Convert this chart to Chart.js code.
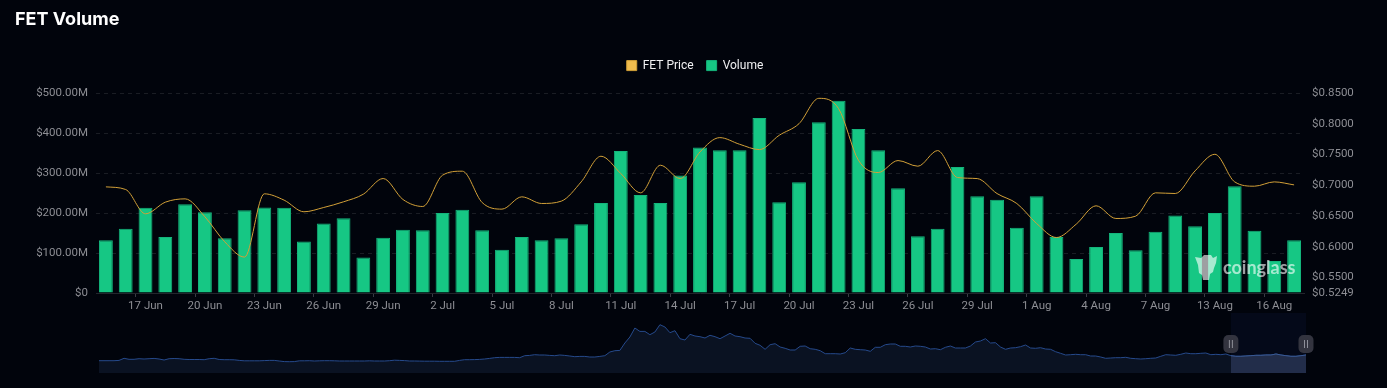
<!DOCTYPE html>
<html>
<head>
<meta charset="utf-8">
<title>FET Volume</title>
<script src="https://cdn.jsdelivr.net/npm/chart.js@4"></script>
<style>
    html, body { margin: 0; padding: 0; background: #01040c; overflow: hidden; }
    #page { position: relative; width: 1387px; height: 388px; }
    canvas { position: absolute; left: 0; display: block; }
    #mainChart { top: 0; }
    #overviewChart { top: 313px; }
    #watermark { position: absolute; left: 1195px; top: 253px; height: 28px; display: flex; align-items: center; color: rgba(255, 255, 255, 0.62); font: 700 18px Lato, sans-serif; }
    #watermark svg { margin-right: 6px; }
</style>
</head>
<body>
<div id="page">
    <canvas id="mainChart" width="1387" height="320"></canvas>
    <canvas id="overviewChart" width="1387" height="60"></canvas>
    <div id="watermark">
        <svg width="22" height="27" viewBox="0 0 22 27"><path fill="rgba(255,255,255,0.62)" d="M0 3 L6 4 L9 1 L16 1 L18 4 L22 2 L21 9 L19 14 L18 18 L15 20 L14 26 L8 26 L7 21 L4 19 L3 11 Z"/></svg>
        <span>coinglass</span>
    </div>
</div>
<script>
const dates = ['15 Jun', '16 Jun', '17 Jun', '18 Jun', '19 Jun', '20 Jun', '21 Jun', '22 Jun', '23 Jun', '24 Jun',
    '25 Jun', '26 Jun', '27 Jun', '28 Jun', '29 Jun', '30 Jun', '1 Jul', '2 Jul', '3 Jul', '4 Jul',
    '5 Jul', '6 Jul', '7 Jul', '8 Jul', '9 Jul', '10 Jul', '11 Jul', '12 Jul', '13 Jul', '14 Jul',
    '15 Jul', '16 Jul', '17 Jul', '18 Jul', '19 Jul', '20 Jul', '21 Jul', '22 Jul', '23 Jul', '24 Jul',
    '25 Jul', '26 Jul', '27 Jul', '28 Jul', '29 Jul', '30 Jul', '31 Jul', '1 Aug', '2 Aug', '3 Aug',
    '4 Aug', '5 Aug', '6 Aug', '7 Aug', '11 Aug', '12 Aug', '13 Aug', '14 Aug', '15 Aug', '16 Aug', '17 Aug'];

// volume in $M
const volumeValues = [132, 161, 213, 140, 222, 202, 137, 207, 214, 213,
    129, 174, 187, 89, 138, 158, 157, 200, 208, 157,
    108, 140, 132, 137, 172, 225, 355, 245, 225, 294,
    364, 357, 357, 438, 227, 277, 427, 481, 410, 357,
    262, 142, 161, 315, 242, 233, 163, 242, 140, 85,
    115, 150, 107, 153, 194, 167, 200, 267, 156, 80, 132];

const priceValues = [0.6975, 0.6932, 0.6537, 0.6726, 0.678, 0.6488, 0.6082, 0.5833, 0.6862, 0.6759,
    0.657, 0.664, 0.6732, 0.6856, 0.7111, 0.677, 0.6656, 0.7165, 0.723, 0.672,
    0.6613, 0.6813, 0.6705, 0.6743, 0.7056, 0.7473, 0.7192, 0.6878, 0.7327, 0.711,
    0.7543, 0.7776, 0.7668, 0.7581, 0.7814, 0.8003, 0.8415, 0.8247, 0.7408, 0.7208,
    0.7403, 0.7311, 0.7565, 0.7127, 0.711, 0.6866, 0.6704, 0.6379, 0.6151, 0.6369,
    0.6667, 0.6461, 0.6499, 0.6878, 0.6867, 0.7235, 0.7505, 0.7056, 0.6986, 0.7056, 0.7007];

const volumeTicks = [0, 100, 200, 300, 400, 500];
const priceTicks = [0.5249, 0.55, 0.6, 0.65, 0.7, 0.75, 0.8, 0.85];

// overview strip under the chart, whole history
const overviewValues = [12.3, 12.3, 12.3, 12.3, 12.6, 14.7, 13.7, 13.7, 14.3, 14, 14.3, 14.6, 14, 13, 14.3, 14.5, 14.3, 13.7, 13.5, 13.5,
    13.5, 13.3, 14.3, 14.7, 13.5, 13.3, 13.3, 13.2, 12.6, 12.2, 12.2, 12.2, 12.2, 12.4, 12.6, 12.6, 12, 11.4, 11.3, 11.4,
    12.2, 12.2, 12.3, 12, 12.2, 12.3, 12.3, 12.2, 12, 12, 12, 12, 12, 12, 12.2, 12, 12, 12, 12.3, 12.8,
    12.6, 12.4, 12, 12, 11.9, 11.8, 11.8, 11.8, 11.7, 11.7, 11.7, 11.7, 12.6, 13.3, 13.3, 13.4, 13.6, 14, 14.6, 15.3,
    15.6, 15.6, 15.6, 15.6, 15.3, 17.3, 17.6, 18.3, 18, 18, 17.6, 17.3, 18, 17.6, 17, 16.3, 16.6, 16.6, 16, 16,
    16.6, 17.3, 21, 22.3, 22.6, 30, 36, 45, 41.6, 41.6, 38.3, 41, 48.3, 46, 40.3, 42.3, 34.3, 33, 38.7, 37,
    36.3, 35, 37.7, 36.3, 34.3, 37, 39.7, 37, 36.3, 35, 34.7, 29.7, 27.7, 23.7, 28.3, 29.3, 26, 24.7, 23, 23,
    26.7, 27, 24.3, 23.7, 22.3, 19.3, 19.3, 19.3, 19, 20.3, 25, 23.7, 23.3, 23, 21.7, 25.7, 25.7, 28.3, 29, 29,
    26.7, 26.7, 26, 27, 26.7, 26, 24, 24.3, 23.3, 25.7, 27, 25, 25, 25, 27, 31, 32, 34.3, 30, 30.3,
    26, 23.7, 25, 25.3, 26.3, 28, 25, 24.7, 25.3, 24, 23.7, 21.3, 19.7, 18, 18.3, 18.7, 18.3, 18.3, 17, 17,
    16, 14.7, 15, 15.3, 15.3, 15.7, 14.7, 14.3, 14, 14.3, 14.7, 15, 16.7, 18.3, 18, 17.7, 18.7, 20, 19.3, 19.3,
    19.7, 20, 18.3, 18.7, 18.3, 19, 17.3, 16.7, 16.7, 17, 17.3, 17.7, 17.7, 18, 18, 19, 18, 17.3, 16.7, 16.7,
    17.3, 18];
const windowStart = 226;

const gridColor = 'rgba(255, 255, 255, 0.1)';
const tickColor = '#8d8e94';
const tickFont = { family: 'Roboto', size: 11.5 };

// extra room between legend and plot
const legendGap = {
    id: 'legendGap',
    beforeInit(chart) {
        const fit = chart.legend.fit;
        chart.legend.fit = function () {
            fit.call(this);
            this.height += 11.5;
        };
    }
};

new Chart(document.getElementById('mainChart'), {
    type: 'bar',
    plugins: [legendGap],
    data: {
        labels: dates,
        datasets: [{
            type: 'line',
            label: 'FET Price',
            data: priceValues,
            yAxisID: 'yPrice',
            borderColor: '#d2a038',
            backgroundColor: '#efbc4e',
            borderWidth: 1,
            pointRadius: 0,
            cubicInterpolationMode: 'monotone'
        }, {
            label: 'Volume',
            data: volumeValues,
            yAxisID: 'yVolume',
            backgroundColor: '#16c784',
            borderColor: '#14b57c',
            borderWidth: 1,
            barPercentage: 0.7,
            categoryPercentage: 1
        }]
    },
    options: {
        responsive: false,
        animation: false,
        layout: { padding: { left: 15, right: 12, top: 0, bottom: 0 } },
        plugins: {
            title: {
                display: true,
                text: 'FET Volume',
                align: 'start',
                color: '#ffffff',
                font: { family: 'Inter', size: 18, weight: '700' },
                padding: { top: 9, bottom: 16 }
            },
            legend: {
                position: 'top',
                labels: {
                    color: '#f0f0f2',
                    font: { family: 'Roboto', size: 12, weight: '400' },
                    boxWidth: 10,
                    boxHeight: 10,
                    padding: 13
                }
            },
            tooltip: { enabled: false }
        },
        scales: {
            x: {
                offset: true,
                grid: {
                    offset: true,
                    drawOnChartArea: false,
                    tickLength: 4,
                    tickColor: ctx => (ctx.index % 3 === 2 || ctx.index === dates.length) ? '#3a3c44' : 'transparent'
                },
                border: { color: '#23252c' },
                ticks: {
                    color: tickColor,
                    font: tickFont,
                    padding: 2,
                    autoSkip: false,
                    maxRotation: 0,
                    callback(value, index) {
                        return index % 3 === 2 ? dates[index] : '';
                    }
                },
                afterFit(scale) { scale.height = 27; }
            },
            yVolume: {
                position: 'left',
                min: 0,
                max: 500,
                grid: { color: gridColor, drawTicks: false },
                border: { display: false, dash: [4, 4] },
                ticks: {
                    color: tickColor,
                    font: tickFont,
                    padding: 8,
                    callback: v => v === 0 ? '$0' : `$${v.toFixed(2)}M`
                },
                afterBuildTicks(scale) { scale.ticks = volumeTicks.map(value => ({ value })); },
                afterFit(scale) { scale.width = 81; }
            },
            yPrice: {
                position: 'right',
                min: priceTicks[0],
                max: priceTicks[priceTicks.length - 1],
                grid: { display: false, drawTicks: false },
                border: { display: false },
                ticks: {
                    color: tickColor,
                    font: tickFont,
                    padding: 8,
                    autoSkip: false,
                    callback: v => `$${v.toFixed(4)}`
                },
                afterBuildTicks(scale) { scale.ticks = priceTicks.map(value => ({ value })); },
                afterFit(scale) { scale.width = 71; }
            }
        }
    }
});

// shaded window and the two drag handles
const zoomWindow = {
    id: 'zoomWindow',
    beforeDatasetsDraw(chart) {
        const { ctx, chartArea, scales } = chart;
        const left = scales.x.getPixelForValue(windowStart);
        ctx.save();
        ctx.fillStyle = '#040919';
        ctx.fillRect(left, chartArea.top, chartArea.right - left, chartArea.bottom - chartArea.top);
        ctx.restore();
    },
    afterDatasetsDraw(chart) {
        const { ctx, chartArea, scales } = chart;
        const left = scales.x.getPixelForValue(windowStart);
        [left, chartArea.right].forEach(x => {
            ctx.save();
            ctx.fillStyle = '#33343f';
            ctx.beginPath();
            ctx.roundRect(x - 7.5, 22, 15, 18, 5);
            ctx.fill();
            ctx.fillStyle = '#8f9099';
            ctx.fillRect(x - 2, 27, 1, 8);
            ctx.fillRect(x + 1, 27, 1, 8);
            ctx.restore();
        });
    }
};

new Chart(document.getElementById('overviewChart'), {
    type: 'line',
    plugins: [zoomWindow],
    data: {
        labels: overviewValues.map((v, i) => i),
        datasets: [{
            data: overviewValues,
            borderColor: '#264a8c',
            backgroundColor: '#0a1222',
            borderWidth: 1,
            pointRadius: 0,
            fill: 'origin'
        }, {
            // selected part sits on top of the full series
            order: -1,
            data: overviewValues.map((v, i) => i >= windowStart ? v : null),
            borderColor: '#3a5a94',
            backgroundColor: '#222d4a',
            borderWidth: 1,
            pointRadius: 0,
            fill: 'origin'
        }]
    },
    options: {
        responsive: false,
        animation: false,
        layout: { padding: { left: 99, right: 81, top: 0, bottom: 0 } },
        plugins: { legend: { display: false }, tooltip: { enabled: false } },
        scales: {
            x: { display: false },
            y: { display: false, min: 0, max: 60 }
        }
    }
});
</script>
</body>
</html>
